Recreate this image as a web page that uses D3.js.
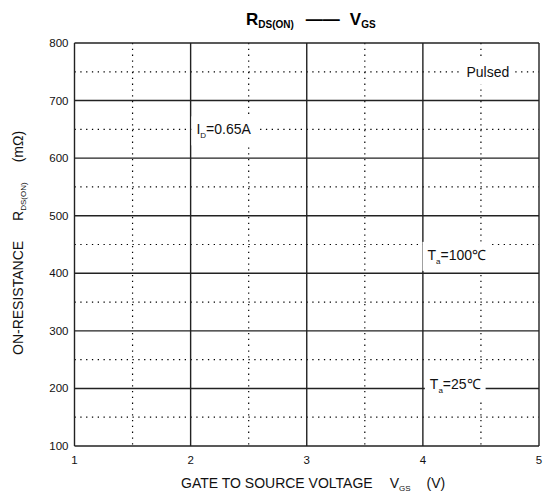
<!DOCTYPE html>
<html lang="en">
<head>
<meta charset="UTF-8">
<title>RDS(ON) - VGS</title>
<script src="https://d3js.org/d3.v7.min.js"></script>
<style>
    body { margin: 0; background: #fff; }
    svg { font-family: "Liberation Sans", Arial, sans-serif; }
    .major { stroke: #222; stroke-width: 1.4; }
    .minor { stroke: #000; stroke-width: 1.2; stroke-dasharray: 1.3 4.5; }
</style>
</head>
<body>
<svg id="chart" width="543" height="499"></svg>
<script>
    // axis ticks
    const xTicks = [1, 2, 3, 4, 5];
    const yTicks = [100, 200, 300, 400, 500, 600, 700, 800];
    const xMinor = [1.5, 2.5, 3.5, 4.5];
    const yMinor = [150, 250, 350, 450, 550, 650, 750];

    // text notes on the plot (data coords)
    const notes = [
        { x: 4.56, y: 750, main: "Pulsed", sub: "", rest: "", anchor: "middle" },
        { x: 2.05, y: 650, main: "I", sub: "D", rest: "=0.65A", anchor: "start" },
        { x: 4.04, y: 432, main: "T", sub: "a", rest: "=100\u2103", anchor: "start" },
        { x: 4.06, y: 208, main: "T", sub: "a", rest: "=25\u2103", anchor: "start" }
    ];

    const margin = { left: 74.5, right: 4, top: 43, bottom: 53 };
    const W = 543, H = 499;
    const svg = d3.select("#chart");

    const x = d3.scaleLinear().domain([1, 5]).range([margin.left, W - margin.right]);
    const y = d3.scaleLinear().domain([100, 800]).range([H - margin.bottom, margin.top]);

    // minor dotted grid
    svg.selectAll(".vmin").data(xMinor).enter().append("line")
        .attr("class", "minor")
        .attr("x1", d => x(d)).attr("x2", d => x(d))
        .attr("y1", y(800)).attr("y2", y(100));
    svg.selectAll(".hmin").data(yMinor).enter().append("line")
        .attr("class", "minor")
        .attr("x1", x(1)).attr("x2", x(5))
        .attr("y1", d => y(d)).attr("y2", d => y(d));

    // major solid grid
    svg.selectAll(".vmaj").data(xTicks).enter().append("line")
        .attr("class", "major")
        .attr("x1", d => x(d)).attr("x2", d => x(d))
        .attr("y1", y(800)).attr("y2", y(100));
    svg.selectAll(".hmaj").data(yTicks).enter().append("line")
        .attr("class", "major")
        .attr("x1", x(1)).attr("x2", x(5))
        .attr("y1", d => y(d)).attr("y2", d => y(d));

    // tick labels
    svg.selectAll(".yt").data(yTicks).enter().append("text")
        .attr("x", margin.left - 6).attr("y", d => y(d) + 4)
        .attr("text-anchor", "end").attr("font-size", 11.5).attr("fill", "#111")
        .text(d => d);
    svg.selectAll(".xt").data(xTicks).enter().append("text")
        .attr("x", d => x(d)).attr("y", y(100) + 18)
        .attr("text-anchor", "middle").attr("font-size", 11.5).attr("fill", "#111")
        .text(d => d);

    // notes with white boxes
    notes.forEach(n => {
        const g = svg.append("g");
        const t = g.append("text")
            .attr("x", x(n.x)).attr("y", y(n.y) + 5)
            .attr("text-anchor", n.anchor).attr("font-size", 14).attr("fill", "#111");
        t.append("tspan").text(n.main);
        if (n.sub) {
            t.append("tspan").attr("font-size", 8).attr("dy", 4).text(n.sub);
            t.append("tspan").attr("dy", -4).text(n.rest);
        }
        const bb = t.node().getBBox();
        g.insert("rect", "text")
            .attr("x", bb.x - 5).attr("y", bb.y - 5)
            .attr("width", bb.width + 10).attr("height", bb.height + 10)
            .attr("fill", "#fff");
    });

    // title
    const title = svg.append("text")
        .attr("x", 246).attr("y", 25)
        .attr("font-size", 17).attr("font-weight", "bold").attr("fill", "#000");
    title.append("tspan").text("R");
    title.append("tspan").attr("font-size", 10).attr("dy", 3).text("DS(ON)");
    title.append("tspan").attr("dy", -3).attr("dx", 12).text("\u2014\u2014");
    title.append("tspan").attr("dx", 10).text("V");
    title.append("tspan").attr("font-size", 10).attr("dy", 3).text("GS");

    // x axis title
    const xt = svg.append("text")
        .attr("x", 181).attr("y", 488)
        .attr("font-size", 14).attr("fill", "#111");
    xt.append("tspan").text("GATE TO SOURCE VOLTAGE");
    xt.append("tspan").attr("dx", 17).text("V");
    xt.append("tspan").attr("font-size", 8).attr("dy", 3).text("GS");
    xt.append("tspan").attr("dy", -3).attr("dx", 16).text("(V)");

    // y axis title
    const yt = svg.append("text")
        .attr("transform", "translate(23,355) rotate(-90)")
        .attr("font-size", 14).attr("fill", "#111");
    yt.append("tspan").text("ON-RESISTANCE");
    yt.append("tspan").attr("dx", 20).text("R");
    yt.append("tspan").attr("font-size", 8).attr("dy", 3).text("DS(ON)");
    yt.append("tspan").attr("dy", -3).attr("dx", 20).text("(m\u03A9)");
</script>
</body>
</html>
